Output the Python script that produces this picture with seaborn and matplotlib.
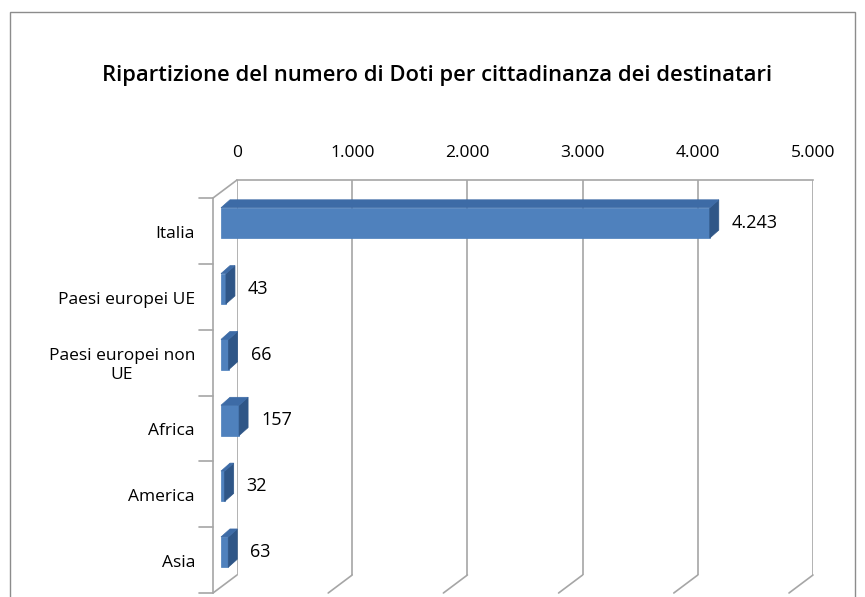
import numpy as np
import pandas as pd
import matplotlib
matplotlib.use('Agg')
import matplotlib.pyplot as plt
import seaborn as sb
from matplotlib.patches import Polygon, Rectangle
from matplotlib.lines import Line2D
from matplotlib.transforms import ScaledTranslation
from matplotlib.ticker import FuncFormatter


categorie = ['Italia', 'Paesi europei UE', 'Paesi europei non\nUE', 'Africa', 'America', 'Asia']
doti = [4243, 43, 66, 157, 32, 63]
x_ticks = [0, 1000, 2000, 3000, 4000, 5000]

titolo = 'Ripartizione del numero di Doti per cittadinanza dei destinatari'

sb.set_style('white')
plt.rcParams['font.family'] = ['Open Sans', 'DejaVu Sans']

GRIGIO = '#A6A6A6'


def ita(v):
    return f'{int(v):,}'.replace(',', '.')


df = pd.DataFrame({'cittadinanza': categorie, 'doti': doti})

W, H = 865, 597
fig = plt.figure(figsize=(W / 100, H / 100), dpi=100)
# parete di fondo del grafico "3D"
ax = fig.add_axes([237 / W, 1 - 575 / H, 576 / W, (575 - 180) / H])

sb.barplot(data=df, x='doti', y='cittadinanza', color='#4F81BD', width=0.46,
           saturation=1, edgecolor='#4A7EBB', linewidth=0.5, ax=ax, zorder=3)

ax.set_xlim(0, 5000)
ax.set_ylim(len(categorie) - 0.5, -0.5)

PX = 5000 / 576  # unita di dati per pixel sull'asse x


def sposta(px, py):
    # spostamento in pixel (py positivo = verso il basso)
    return ax.transData + ScaledTranslation(px / 100, -py / 100, fig.dpi_scale_trans)


# barre sul piano intermedio, con profondita
bar_tr = sposta(-16, 10)
dx = 9 * PX
dy = 8 / 66
for p in list(ax.patches):
    p.set_transform(bar_tr)
    p.set_clip_on(False)
    x0, y0 = p.get_x(), p.get_y()
    w, h = p.get_width(), p.get_height()
    side = Polygon([(x0 + w, y0), (x0 + w + dx, y0 - dy),
                    (x0 + w + dx, y0 + h - dy), (x0 + w, y0 + h)],
                   closed=True, facecolor='#2F5687', edgecolor='#2F5687', lw=0.5,
                   zorder=3, transform=bar_tr, clip_on=False)
    top = Polygon([(x0, y0), (x0 + dx, y0 - dy), (x0 + w + dx, y0 - dy), (x0 + w, y0)],
                  closed=True, facecolor='#3D6BA6', edgecolor='#3D6BA6', lw=0.5,
                  zorder=3, transform=bar_tr, clip_on=False)
    ax.add_patch(side)
    ax.add_patch(top)

# etichette dei valori
val_tr = sposta(-16 + 9 + 13, 10)
for i, v in enumerate(doti):
    ax.text(v, i + 0.0, ita(v), va='center', ha='left', fontsize=13,
            color='black', transform=val_tr, clip_on=False)

# etichette delle categorie sul piano frontale
lab_tr = sposta(-24, 21)
for i, c in enumerate(categorie):
    ax.text(-18 * PX, i, c, va='center', ha='right', multialignment='center',
            fontsize=12.5, color='black', transform=lab_tr, clip_on=False,
            linespacing=1.25)

ax.set_xticks(x_ticks)
ax.xaxis.set_major_formatter(FuncFormatter(lambda v, _: ita(v)))
ax.xaxis.tick_top()
ax.tick_params(axis='x', length=0, pad=14, labelsize=12.5, labelcolor='black')
ax.set_yticks([])
ax.grid(axis='x', color=GRIGIO, linewidth=1.2, zorder=0)
ax.set_xlabel('')
ax.set_ylabel('')
for s in ['right', 'bottom', 'left']:
    ax.spines[s].set_visible(False)
ax.spines['top'].set_color(GRIGIO)
ax.spines['top'].set_linewidth(1.2)

# parete sinistra e pavimento
front_tr = sposta(-24, 18)
n = len(categorie)
ax.plot([0, 0], [-0.5, n - 0.5], color=GRIGIO, lw=1.2, transform=front_tr, clip_on=False)
for b in np.arange(-0.5, n, 1.0):
    ax.plot([0, -14 * PX], [b, b], color=GRIGIO, lw=1.2, transform=front_tr, clip_on=False)

fig.canvas.draw()
for t in x_ticks:
    bx, by = ax.transData.transform((t, n - 0.5))
    fig.lines.append(Line2D([bx, bx - 24], [by, by - 18], transform=None,
                            color=GRIGIO, lw=1.2))
tx, ty = ax.transData.transform((0, -0.5))
fig.lines.append(Line2D([tx, tx - 24], [ty, ty - 18], transform=None, color=GRIGIO, lw=1.2))

fig.text(437 / W, 1 - 75 / H, titolo, ha='center', va='center', fontsize=15.8,
         fontweight='semibold', color='black')
fig.patches.append(Rectangle((10 / W, -0.05), 845 / W, 1 - 12 / H + 0.05,
                             transform=fig.transFigure, fill=False,
                             edgecolor='#8C8C8C', lw=1))

fig.savefig('out.png', dpi=100)
